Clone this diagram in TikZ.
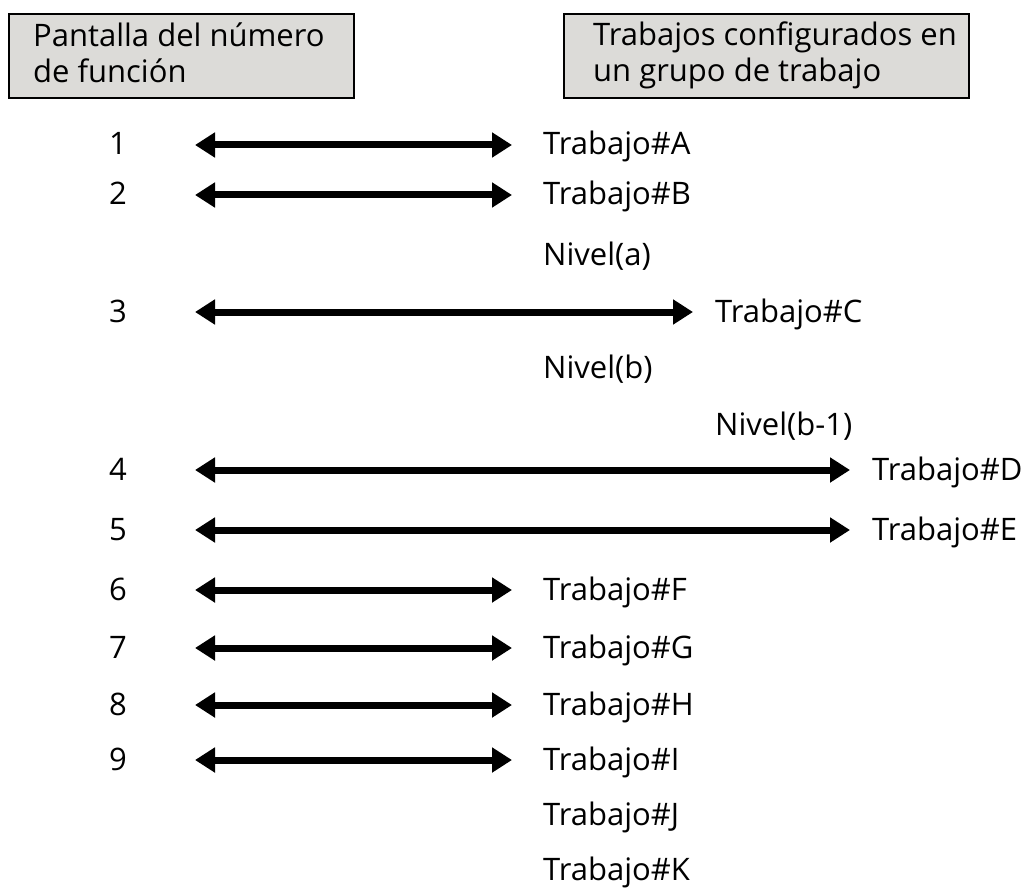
\documentclass[tikz,border=0pt]{standalone}
\usepackage{fontspec}
\setmainfont{Open Sans}
\usetikzlibrary{arrows.meta}
\definecolor{hdrgray}{RGB}{220,219,216}
\tikzset{
  hdrbox/.style={draw=black, line width=2pt, fill=hdrgray, anchor=north west, minimum height=84pt, inner sep=0pt},
  hdrtext/.style={anchor=base west, align=left, inner sep=0pt, font=\fontsize{31}{36}\selectfont},
  lbl/.style={anchor=base west, inner sep=0pt, font=\fontsize{31}{36}\selectfont},
  num/.style={anchor=base, inner sep=0pt, font=\fontsize{31}{36}\selectfont},
  dbl/.style={line width=7pt, {Triangle[length=20pt,width=24pt]}-{Triangle[length=20pt,width=24pt]}}
}
\begin{document}
\begin{tikzpicture}[x=1pt,y=-1pt]
\useasboundingbox (0,0) rectangle (1024,893);
% headers
\node[hdrbox, minimum width=345pt] (h1) at (8,13) {};
\node[hdrtext] (h1t) at (33,83) {Pantalla del número\\de función};
\node[hdrbox, minimum width=405pt] (h2) at (563,13) {};
\node[hdrtext] (h2t) at (593,82) {Trabajos configurados en\\un grupo de trabajo};
% numbers
\foreach \i/\y in {1/145,2/195,3/312,4/470,5/530,6/590,7/648,8/705,9/760}{
  \node[num] (n\i) at (118,\y+10) {\i};
}
% labels
\node[lbl] (tA) at (543,155) {Trabajo\#A};
\node[lbl] (tB) at (543,205) {Trabajo\#B};
\node[lbl] (la) at (543,265) {Nivel(a)};
\node[lbl] (tC) at (715,322) {Trabajo\#C};
\node[lbl] (lb) at (543,378) {Nivel(b)};
\node[lbl] (lb1) at (715,435) {Nivel(b-1)};
\node[lbl] (tD) at (872,480) {Trabajo\#D};
\node[lbl] (tE) at (872,540) {Trabajo\#E};
\node[lbl] (tF) at (543,600) {Trabajo\#F};
\node[lbl] (tG) at (543,658) {Trabajo\#G};
\node[lbl] (tH) at (543,715) {Trabajo\#H};
\node[lbl] (tI) at (543,770) {Trabajo\#I};
\node[lbl] (tJ) at (543,825) {Trabajo\#J};
\node[lbl] (tK) at (543,880) {Trabajo\#K};
% arrow ends
\foreach \i/\y/\r in {1/145/512,2/195/512,3/312/693,4/470/850,5/530/850,6/590/512,7/648/512,8/705/512,9/760/512}{
  \coordinate (L\i) at (195,\y);
  \coordinate (R\i) at (\r,\y);
}
\foreach \i in {1,...,9}{ \draw[dbl] (L\i) -- (R\i); }
\end{tikzpicture}
\end{document}
